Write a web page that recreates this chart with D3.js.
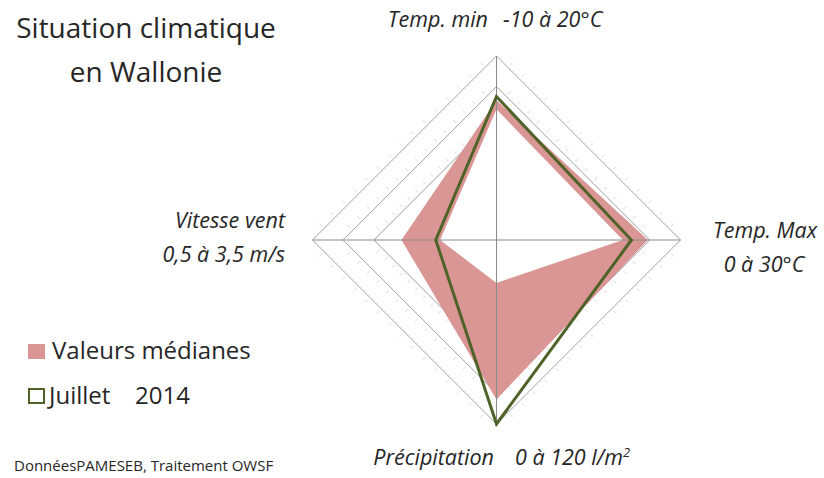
<!DOCTYPE html>
<html>
<head>
<meta charset="utf-8">
<script src="https://cdn.jsdelivr.net/npm/d3@7"></script>
<style>
  body { margin: 0; background: #fff; }
  text { font-family: "Open Sans", sans-serif; fill: #262626; }
</style>
</head>
<body>
<div id="chartCtn"></div>
<script>
// axes, clockwise from the top
const axes = [ "Temp. min", "Temp. Max", "Précipitation", "Vitesse vent" ];
const axisUnits = [ "-10 à 20°C", "0 à 30°C", "0 à 120 l/m", "0,5 à 3,5 m/s" ];
const axisMin = [ -10, 0, 0, 0.5 ];
const axisMax = [ 20, 30, 120, 3.5 ];
// median band : outer edge (pink) and inner edge (white mask)
const medianOuter = [ 12.8, 24.7, 104, 2.05 ];
const medianInner = [ 11.3, 20.6, 28, 1.42 ];
const juillet2014 = [ 13.4, 22.0, 120, 1.49 ];
const legendLabels = [ [ "Valeurs médianes" ], [ "Juillet", "2014" ] ];

const width = 824, height = 478;
const cx = 496.5, cy = 240, R = 184;
const levels = 6;

const svg = d3.select( "#chartCtn" )
	.append( "svg" )
	.attr( "width", width )
	.attr( "height", height );

const angle = i => -Math.PI / 2 + i * Math.PI / 2;
const scales = axes.map( ( a, i ) => d3.scaleLinear()
	.domain( [ axisMin[i], axisMax[i] ] )
	.range( [ 0, R ] ) );

const pt = ( r, i ) => [ cx + r * Math.cos( angle( i ) ), cy + r * Math.sin( angle( i ) ) ];
const valuesToPoints = vals => vals.map( ( v, i ) => pt( scales[i]( v ), i ) );
const line = d3.line().curve( d3.curveLinearClosed );

// rings
const ringR = d3.range( 1, levels + 1 ).map( k => R * k / levels );
svg.append( "g" )
	.selectAll( "path" )
	.data( ringR )
	.enter()
	.append( "path" )
	.attr( "d", r => line( axes.map( ( a, i ) => pt( r, i ) ) ) )
	.attr( "fill", "none" )
	.attr( "stroke", "#a0a0a0" )
	.attr( "stroke-width", 1 );

// faint little marks along the outer rings
const marks = [];
ringR.slice( 3 ).forEach( r => {
	for ( let i = 0; i < 4; i++ ) {
		const p0 = pt( r, i ), p1 = pt( r, ( i + 1 ) % 4 );
		const mx = ( p0[0] + p1[0] ) / 2 - cx, my = ( p0[1] + p1[1] ) / 2 - cy;
		const len = Math.hypot( mx, my );
		for ( let k = 1; k < 16; k++ ) {
			const t = k / 16;
			marks.push( {
				x: p0[0] + ( p1[0] - p0[0] ) * t + mx / len * 5,
				y: p0[1] + ( p1[1] - p0[1] ) * t + my / len * 5,
				dx: mx / len * 2, dy: my / len * 2
			} );
		}
	}
} );
svg.append( "g" )
	.selectAll( "line" )
	.data( marks )
	.enter()
	.append( "line" )
	.attr( "x1", d => d.x - d.dx ).attr( "y1", d => d.y - d.dy )
	.attr( "x2", d => d.x + d.dx ).attr( "y2", d => d.y + d.dy )
	.attr( "stroke", "#dcdcdc" )
	.attr( "stroke-width", 1 );

// median band
svg.append( "path" )
	.attr( "d", line( valuesToPoints( medianOuter ) ) )
	.attr( "fill", "#d99694" );
svg.append( "path" )
	.attr( "d", line( valuesToPoints( medianInner ) ) )
	.attr( "fill", "#ffffff" );

// axis lines
svg.append( "g" )
	.selectAll( "line" )
	.data( axes )
	.enter()
	.append( "line" )
	.attr( "x1", cx ).attr( "y1", cy )
	.attr( "x2", ( d, i ) => pt( R, i )[0] )
	.attr( "y2", ( d, i ) => pt( R, i )[1] )
	.attr( "stroke", "#8a8a8a" )
	.attr( "stroke-width", 1 );

// juillet 2014
svg.append( "path" )
	.attr( "d", line( valuesToPoints( juillet2014 ) ) )
	.attr( "fill", "none" )
	.attr( "stroke", "#4f6228" )
	.attr( "stroke-width", 3 )
	.attr( "stroke-linejoin", "miter" );

// title
svg.append( "text" )
	.attr( "x", 146 ).attr( "y", 38 )
	.attr( "text-anchor", "middle" )
	.style( "font-size", "28px" )
	.text( "Situation climatique" );
svg.append( "text" )
	.attr( "x", 146 ).attr( "y", 82 )
	.attr( "text-anchor", "middle" )
	.style( "font-size", "28px" )
	.text( "en Wallonie" );

// axis labels
const italic = sel => sel.style( "font-style", "italic" ).style( "font-size", "21.5px" );

svg.append( "text" ).attr( "x", 488 ).attr( "y", 27 ).attr( "text-anchor", "end" ).call( italic ).text( axes[0] );
svg.append( "text" ).attr( "x", 503 ).attr( "y", 27 ).call( italic ).text( axisUnits[0] );

svg.append( "text" ).attr( "x", 765 ).attr( "y", 238 ).attr( "text-anchor", "middle" ).call( italic ).text( axes[1] );
svg.append( "text" ).attr( "x", 764 ).attr( "y", 272 ).attr( "text-anchor", "middle" ).call( italic ).text( axisUnits[1] );

svg.append( "text" ).attr( "x", 285 ).attr( "y", 228 ).attr( "text-anchor", "end" ).call( italic ).text( axes[3] );
svg.append( "text" ).attr( "x", 285 ).attr( "y", 262 ).attr( "text-anchor", "end" ).call( italic ).text( axisUnits[3] );

svg.append( "text" ).attr( "x", 494 ).attr( "y", 465 ).attr( "text-anchor", "end" ).call( italic ).text( axes[2] );
const unitBottom = svg.append( "text" ).attr( "x", 515 ).attr( "y", 465 ).call( italic );
unitBottom.append( "tspan" ).text( axisUnits[2] );
unitBottom.append( "tspan" ).attr( "dy", -8 ).style( "font-size", "13px" ).text( "2" );

// legend
const legend = svg.append( "g" );
legend.append( "rect" )
	.attr( "x", 28 ).attr( "y", 344 ).attr( "width", 17 ).attr( "height", 15 )
	.attr( "fill", "#d99694" );
legend.append( "rect" )
	.attr( "x", 29 ).attr( "y", 389 ).attr( "width", 15 ).attr( "height", 14 )
	.attr( "fill", "none" )
	.attr( "stroke", "#4f6228" )
	.attr( "stroke-width", 2 );
const legendText = legend.selectAll( "text" )
	.data( legendLabels )
	.enter()
	.append( "text" )
	.attr( "y", ( d, i ) => 359 + i * 44.5 )
	.style( "font-size", "24px" );
legendText.selectAll( "tspan" )
	.data( d => d )
	.enter()
	.append( "tspan" )
	.attr( "x", ( d, j, nodes ) => j ? 135 : ( nodes.length > 1 ? 49 : 52 ) )
	.text( d => d );

// source
svg.append( "text" )
	.attr( "x", 14 ).attr( "y", 471 )
	.style( "font-size", "15px" )
	.text( "DonnéesPAMESEB, Traitement OWSF" );
</script>
</body>
</html>
